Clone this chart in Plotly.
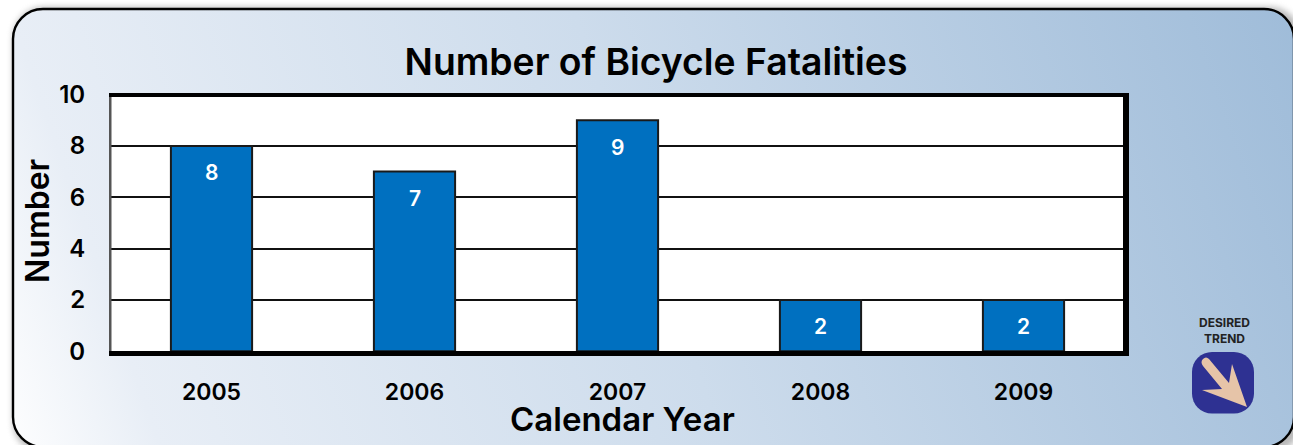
import base64
import plotly.graph_objects as go

W, H = 1293, 445

# Data
years = ["2005", "2006", "2007", "2008", "2009"]
fatalities = [8, 7, 9, 2, 2]
y_ticks = [0, 2, 4, 6, 8, 10]

FONT = "Inter, Lato, sans-serif"
PLOT_L, PLOT_R, PLOT_T, PLOT_B = 110, 1125, 94.6, 351.3


def px(x):
    return x / W


def py(y):
    return 1 - y / H


svg = f'''<svg xmlns="http://www.w3.org/2000/svg" width="{W}" height="{H}" viewBox="0 0 {W} {H}">
<defs>
<linearGradient id="g" gradientUnits="userSpaceOnUse" x1="0" y1="445" x2="1293" y2="0">
<stop offset="0" stop-color="#ffffff"/>
<stop offset="0.11" stop-color="#e8eef6"/>
<stop offset="0.5" stop-color="#cddcec"/>
<stop offset="1" stop-color="#9fbcd9"/>
</linearGradient>
<filter id="b" x="-5%" y="-10%" width="110%" height="120%"><feGaussianBlur stdDeviation="3"/></filter>
</defs>
<rect x="0" y="0" width="{W}" height="{H}" fill="#ffffff"/>
<rect x="13" y="7" width="1288" height="446" rx="31" fill="#8a8a8a" filter="url(#b)" opacity="0.6"/>
<rect x="13" y="9" width="1281" height="438" rx="30" fill="url(#g)" stroke="#000000" stroke-width="2.4"/>
<rect x="1192" y="352" width="62" height="61.5" rx="20" fill="#2e3192"/>
<path d="M1209 359 L1229 383 L1232 364 L1247 407 L1202 390 L1222 389 L1203 366 Q1200 362 1203 359 Q1206 356 1209 359 Z" fill="#e6c4a8"/>
</svg>'''
bg = "data:image/svg+xml;base64," + base64.b64encode(svg.encode()).decode()

fig = go.Figure(
    go.Bar(
        x=years,
        y=fatalities,
        width=0.4,
        marker=dict(color="#0070c0", line=dict(color="#1a1a1a", width=2)),
        hoverinfo="x+y",
    )
)

annotations = [
    dict(x=i, y=v, xref="x", yref="y", yshift=-27, text=str(v), showarrow=False,
         yanchor="middle", font=dict(family=FONT, size=21, color="#ffffff", weight=600))
    for i, v in enumerate(fatalities)
]
annotations += [
    dict(x=px(37), y=py(221), xref="paper", yref="paper", text="Number", textangle=-90,
         showarrow=False, xanchor="center", yanchor="middle",
         font=dict(family=FONT, size=32, color="#000000", weight=600)),
    dict(x=px(622), y=py(419), xref="paper", yref="paper", text="Calendar Year",
         showarrow=False, xanchor="center", yanchor="middle",
         font=dict(family=FONT, size=33, color="#000000", weight=600)),
    dict(x=px(1224), y=py(330), xref="paper", yref="paper", text="DESIRED<br>TREND",
         showarrow=False, xanchor="center", yanchor="middle", align="center",
         font=dict(family=FONT, size=12, color="#222222", weight=700)),
]


def frame(x0, y0, x1, y1, color="#000000"):
    return dict(type="rect", xref="paper", yref="paper", x0=px(x0), x1=px(x1),
                y0=py(y0), y1=py(y1), fillcolor=color, line_width=0, layer="above")


shapes = [
    dict(type="rect", xref="paper", yref="paper", x0=px(PLOT_L), x1=px(PLOT_R),
         y0=py(PLOT_B), y1=py(PLOT_T), fillcolor="#ffffff", line_width=0, layer="below"),
    frame(109, 93, 111.5, 356, "#555555"),
    frame(109, 93, 1129, 97),
    frame(1123, 93, 1129, 356),
    frame(109, 351, 1129, 356),
]

fig.update_layout(
    width=W,
    height=H,
    autosize=False,
    margin=dict(l=0, r=0, t=0, b=0, pad=0, autoexpand=False),
    paper_bgcolor="#ffffff",
    plot_bgcolor="#ffffff",
    showlegend=False,
    bargap=0.6,
    title=dict(text="Number of Bicycle Fatalities", x=656 / W, xanchor="center", xref="container",
               y=py(62), yanchor="middle", yref="container",
               font=dict(family=FONT, size=37.3, color="#000000", weight=600)),
    xaxis=dict(domain=[px(PLOT_L), px(PLOT_R)], type="category", range=[-0.5, 4.5],
               showgrid=False, zeroline=False, showline=False,
               ticks="outside", ticklen=20, tickcolor="rgba(0,0,0,0)",
               tickfont=dict(family=FONT, size=23, color="#000000", weight=600)),
    yaxis=dict(domain=[py(PLOT_B), py(PLOT_T)], range=[0, 10], tickvals=y_ticks,
               showgrid=True, gridcolor="#111111", gridwidth=2, zeroline=False, showline=False,
               ticks="outside", ticklen=19, tickcolor="rgba(0,0,0,0)",
               tickfont=dict(family=FONT, size=24, color="#000000", weight=600)),
    annotations=annotations,
    shapes=shapes,
    images=[dict(source=bg, xref="paper", yref="paper", x=0, y=1, sizex=1, sizey=1,
                 xanchor="left", yanchor="top", sizing="stretch", layer="below")],
)

fig.write_html("out.html", config=dict(displayModeBar=False),
               post_script="document.body.style.margin='0';")
